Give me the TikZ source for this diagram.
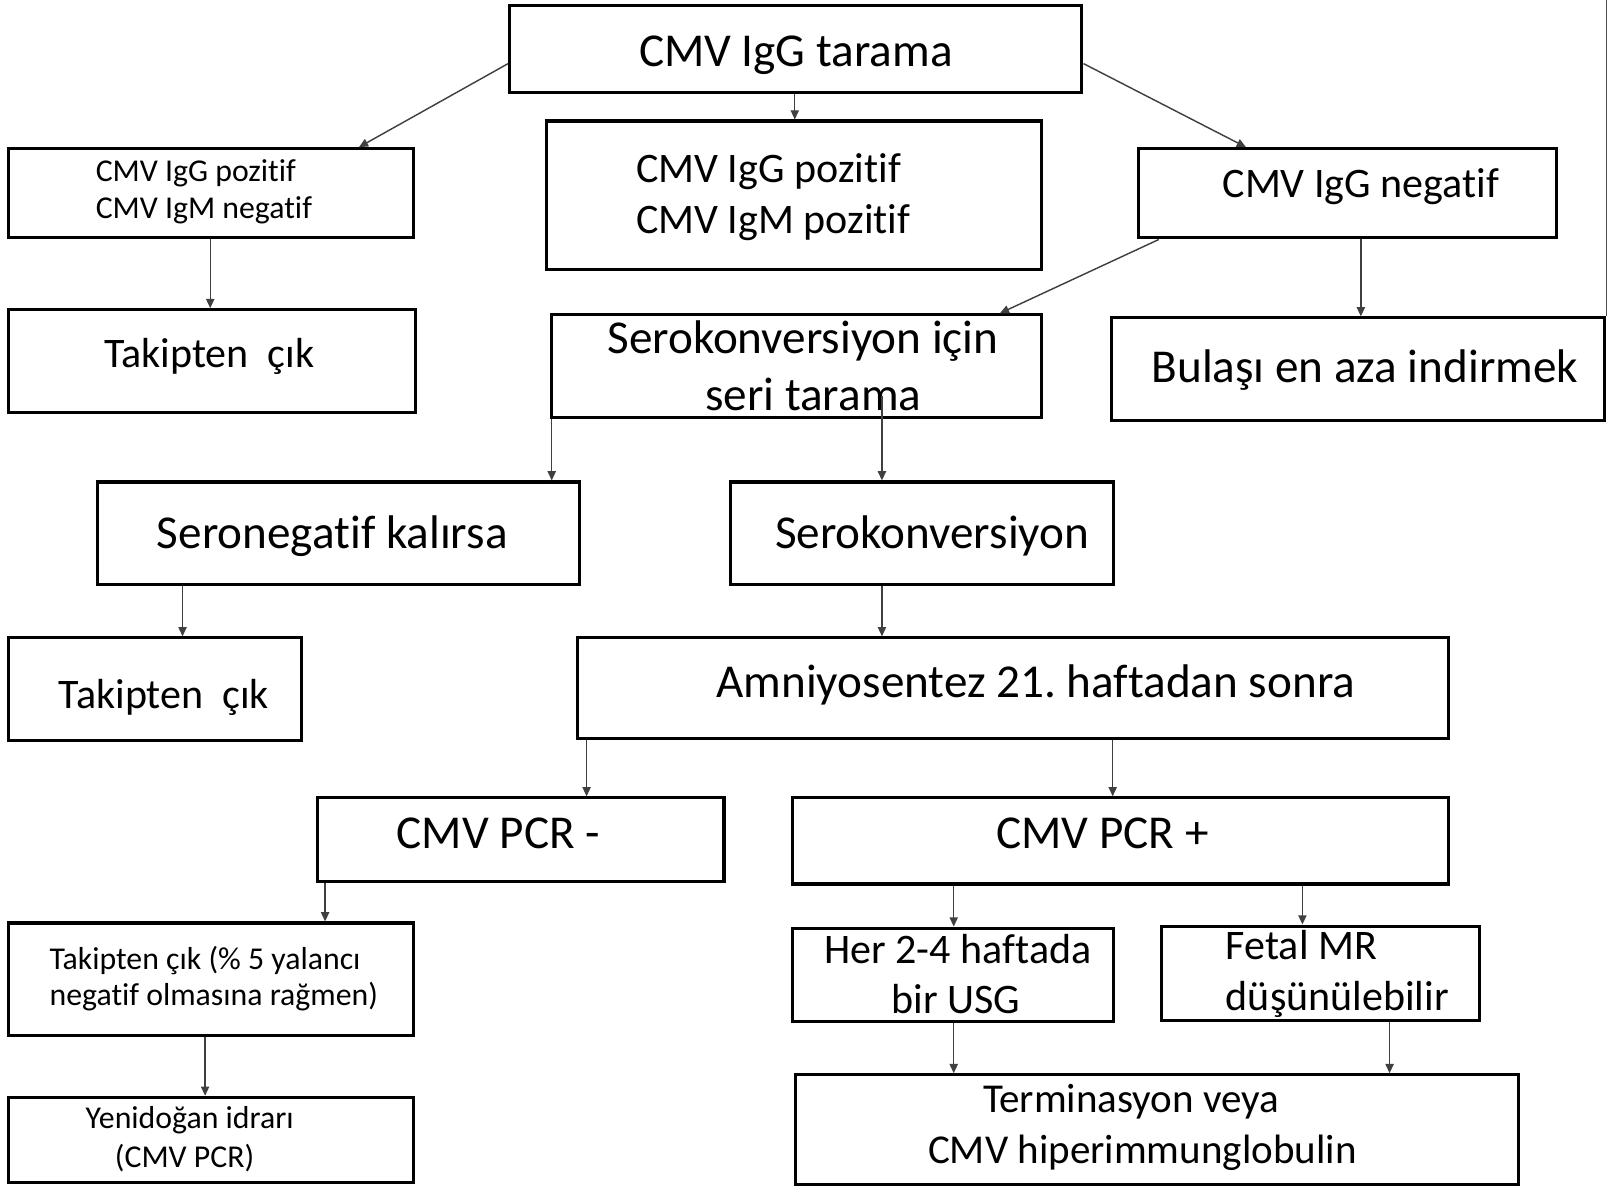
\documentclass[tikz,border=0pt]{standalone}
\usepackage{fontspec}
\setmainfont[Ligatures={NoCommon},RawFeature={-liga;-clig;-dlig}]{Carlito}
\frenchspacing
\usetikzlibrary{arrows.meta,fit}
\tikzset{
 box/.style={draw=black, line width=1.5pt, inner sep=0pt},
 arr/.style={draw=black!75, line width=0.7pt, -{Triangle[length=4.5pt,width=4pt]}},
 big/.style={font=\fontsize{23pt}{27pt}\selectfont, inner sep=0pt},
 med/.style={font=\fontsize{20.5pt}{25pt}\selectfont, inner sep=0pt},
 mdb/.style={font=\fontsize{20pt}{24pt}\selectfont, inner sep=0pt},
 sml/.style={font=\fontsize{15.5pt}{19pt}\selectfont, inner sep=0pt},
 edgeline/.style={draw=black!70, line width=0.9pt},
}
\begin{document}
\begin{tikzpicture}[x=0.5pt,y=-0.5pt]
\useasboundingbox (0,0) rectangle (1568,1158);
% boxes
\node[box, fit={(497,5)(1055,90)}] (b1) {};
\node[box, fit={(8,145)(403,232)}] (b2) {};
\node[box, fit={(533,118)(1016,263)}] (b3) {};
\node[box, fit={(1110,145)(1518,232)}] (b4) {};
\node[box, fit={(8,302)(405,402)}] (b5) {};
\node[box, fit={(538,307)(1016,407)}] (b6) {};
\node[box, fit={(1084,310)(1565,410)}] (b7) {};
\node[box, fit={(95,470)(565,570)}] (b8) {};
\node[box, fit={(712,470)(1086,570)}] (b9) {};
\node[box, fit={(8,622)(294,722)}] (b10) {};
\node[box, fit={(563,622)(1412,720)}] (b11) {};
\node[box, fit={(310,778)(706,860)}] (b12) {};
\node[box, fit={(773,778)(1412,862)}] (b13) {};
\node[box, fit={(8,900)(403,1010)}] (b14) {};
\node[box, fit={(773,905)(1086,996)}] (b15) {};
\node[box, fit={(1133,903)(1443,995)}] (b16) {};
\node[box, fit={(776,1048)(1481,1155)}] (b17) {};
\node[box, fit={(8,1070)(403,1153)}] (b18) {};
% texts
\node[big, anchor=base] (t1) at (776,65) {CMV IgG tarama};
\node[sml, anchor=base west] (t2a) at (93,177) {CMV IgG pozitif};
\node[sml, anchor=base west] (t2b) at (93,213) {CMV IgM negatif};
\node[med, anchor=base west] (t3a) at (620,178) {CMV IgG pozitif};
\node[med, anchor=base west] (t3b) at (620,228) {CMV IgM pozitif};
\node[med, anchor=base] (t4) at (1327,193) {CMV IgG negatif};
\node[med, anchor=base] (t5) at (204,358) {Takipten\ \ çık};
\node[big, anchor=base] (t6a) at (783,345) {Serokonversiyon için};
\node[big, anchor=base] (t6b) at (793,400) {seri tarama};
\node[big, anchor=base] (t7) at (1331,373) {Bulaşı en aza indirmek};
\node[big, anchor=base] (t8) at (324,535) {Seronegatif kalırsa};
\node[big, anchor=base] (t9) at (909,535) {Serokonversiyon};
\node[med, anchor=base] (t10) at (160,691) {Takipten\ \ çık};
\node[big, anchor=base] (t11) at (1010,680) {Amniyosentez 21.\ haftadan sonra};
\node[big, anchor=base] (t12) at (486,827) {CMV PCR -};
\node[big, anchor=base] (t13) at (1075,827) {CMV PCR +};
\node[sml, anchor=base west] (t14a) at (48,945) {Takipten çık (\% 5 yalancı};
\node[sml, anchor=base west] (t14b) at (48,980) {negatif olmasına rağmen)};
\node[med, anchor=base] (t15a) at (934,940) {Her 2-4 haftada};
\node[med, anchor=base] (t15b) at (932,988) {bir USG};
\node[med, anchor=base west] (t16a) at (1195,936) {Fetal MR};
\node[med, anchor=base west] (t16b) at (1195,985) {düşünülebilir};
\node[mdb, anchor=base] (t17a) at (1103,1085) {Terminasyon veya};
\node[mdb, anchor=base] (t17b) at (1114,1135) {CMV hiperimmunglobulin};
\node[sml, anchor=base] (t18a) at (185,1100) {Yenidoğan idrarı};
\node[sml, anchor=base] (t18b) at (180,1138) {(CMV PCR)};
% connectors
\draw[arr] (b1.west |- 0,62) -- (b2.north -| 350,0);
\draw[arr] (b1.south -| 775,0) -- (b3.north -| 775,0);
\draw[arr] (b1.east |- 0,62) -- (b4.north -| 1215,0);
\draw[arr] (b4.south -| 1130,0) -- (b6.north -| 975,0);
\draw[arr] (b4.south -| 1327,0) -- (b7.north -| 1327,0);
\draw[arr] (b2.south -| 205,0) -- (b5.north -| 205,0);
\draw[arr] (b6.south -| 538,0) -- (b8.north -| 538,0);
\draw[arr] (b6.south -| 860,0) ++(0,-22) -- (b9.north -| 860,0);
\draw[arr] (b8.south -| 178,0) -- (b10.north -| 178,0);
\draw[arr] (b9.south -| 860,0) -- (b11.north -| 860,0);
\draw[arr] (b11.south -| 572,0) -- (b12.north -| 572,0);
\draw[arr] (b11.south -| 1085,0) -- (b13.north -| 1085,0);
\draw[arr] (b12.south -| 317,0) -- (b14.north -| 317,0);
\draw[arr] (b14.south -| 200,0) -- (b18.north -| 200,0);
\draw[arr] (b13.south -| 930,0) -- (b15.north -| 930,0);
\draw[arr] (b13.south -| 1270,0) -- (b16.north -| 1270,0);
\draw[arr] (b15.south -| 930,0) -- (b17.north -| 930,0);
\draw[arr] (b16.south -| 1355,0) -- (b17.north -| 1355,0);
\draw[edgeline] (b7.north east) -- (b7.north east |- 0,0);
\end{tikzpicture}
\end{document}
